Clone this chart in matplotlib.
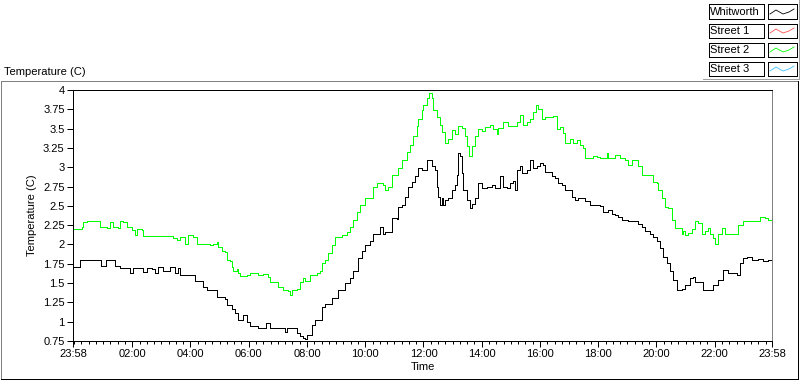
# temperature log chart, LabVIEW style, two stations over one day

import matplotlib
matplotlib.use('Agg')
import matplotlib.pyplot as plt
from matplotlib.lines import Line2D
from matplotlib.patches import Rectangle

plt.rcParams['font.family'] = ['Liberation Sans', 'DejaVu Sans']

# hours since 23:58 start
t_whit = [0.00, 0.24, 0.93, 0.96, 1.13, 1.37, 1.44, 1.61, 1.85, 1.96, 2.06, 2.30, 2.40,
          2.54, 2.71, 2.82, 2.92, 3.09, 3.23, 3.33, 3.50, 3.61, 3.67, 4.12, 4.19, 4.46,
          4.60, 4.88, 4.94, 5.22, 5.29, 5.46, 5.56, 5.67, 5.84, 5.97, 6.08, 6.35, 6.63,
          6.76, 7.21, 7.28, 7.35, 7.62, 7.69, 7.79, 7.90, 7.97, 8.03, 8.21, 8.31, 8.55,
          8.65, 8.82, 8.89, 9.10, 9.34, 9.51, 9.61, 9.79, 9.92, 10.03, 10.20, 10.30,
          10.44, 10.54, 10.64, 10.71, 10.95, 11.12, 11.16, 11.30, 11.40, 11.50, 11.64,
          11.74, 11.85, 11.98, 12.09, 12.15, 12.33, 12.43, 12.50, 12.53, 12.60, 12.67,
          12.70, 12.77, 12.88, 13.01, 13.12, 13.18, 13.22, 13.29, 13.36, 13.39, 13.53,
          13.63, 13.70, 13.80, 13.91, 14.04, 14.21, 14.39, 14.49, 14.66, 14.76, 14.90,
          15.00, 15.11, 15.18, 15.24, 15.35, 15.42, 15.59, 15.69, 15.79, 15.93, 16.03,
          16.14, 16.21, 16.31, 16.45, 16.55, 16.65, 16.79, 16.89, 17.13, 17.24, 17.34,
          17.58, 17.75, 18.09, 18.20, 18.37, 18.51, 18.61, 18.71, 18.85, 19.06, 19.30,
          19.40, 19.54, 19.64, 19.81, 19.91, 20.05, 20.15, 20.26, 20.39, 20.50, 20.60,
          20.74, 20.91, 21.01, 21.19, 21.29, 21.36, 21.60, 21.63, 21.87, 21.97, 22.15,
          22.32, 22.49, 22.80, 22.90, 23.00, 23.14, 23.31, 23.52, 23.69, 23.86, 24.00]
v_whit = [1.71, 1.80, 1.80, 1.72, 1.80, 1.80, 1.72, 1.70, 1.70, 1.63, 1.70, 1.69, 1.64,
          1.70, 1.68, 1.63, 1.71, 1.66, 1.65, 1.71, 1.63, 1.69, 1.60, 1.60, 1.53, 1.45,
          1.41, 1.41, 1.32, 1.30, 1.22, 1.17, 1.11, 1.02, 1.09, 1.00, 0.94, 0.92, 0.98,
          0.92, 0.92, 0.87, 0.92, 0.92, 0.85, 0.81, 0.79, 0.77, 0.83, 0.96, 1.02, 1.19,
          1.23, 1.23, 1.31, 1.41, 1.50, 1.56, 1.65, 1.82, 1.91, 1.99, 2.04, 2.14,
          2.14, 2.23, 2.14, 2.16, 2.34, 2.33, 2.49, 2.51, 2.62, 2.75, 2.81,
          2.88, 2.99, 2.97, 2.96, 3.09, 3.01, 2.96, 2.75, 2.62, 2.51, 2.60,
          2.51, 2.58, 2.60, 2.71, 2.77, 2.90, 3.18, 3.14, 2.92, 2.71, 2.58,
          2.47, 2.52, 2.60, 2.79, 2.73, 2.75, 2.77, 2.73, 2.88, 2.75, 2.73,
          2.79, 2.82, 2.71, 2.96, 3.01, 2.92, 2.96, 3.09, 2.99, 3.01, 3.05,
          3.03, 2.94, 2.94, 2.88, 2.86, 2.79, 2.77, 2.71, 2.62, 2.58, 2.60,
          2.56, 2.51, 2.50, 2.42, 2.44, 2.40, 2.38, 2.36, 2.32, 2.30, 2.30,
          2.27, 2.23, 2.18, 2.14, 2.10, 2.04, 1.95, 1.84, 1.76, 1.65, 1.54,
          1.41, 1.42, 1.48, 1.56, 1.58, 1.52, 1.52, 1.41, 1.41, 1.48, 1.54,
          1.67, 1.63, 1.60, 1.76, 1.82, 1.84, 1.80, 1.81, 1.79, 1.80, 1.80]

t_st2 = [0.00, 0.31, 0.34, 0.48, 0.86, 0.93, 1.17, 1.27, 1.37, 1.55, 1.61, 1.72, 1.85,
         2.03, 2.13, 2.20, 2.37, 2.40, 3.33, 3.43, 3.57, 3.67, 3.85, 3.95, 4.12, 4.26,
         4.64, 4.70, 4.81, 4.94, 4.98, 5.12, 5.22, 5.29, 5.39, 5.46, 5.49, 5.63, 5.67,
         5.73, 5.97, 6.08, 6.35, 6.52, 6.70, 6.76, 6.94, 7.04, 7.21, 7.38, 7.45, 7.52,
         7.69, 7.79, 7.90, 7.97, 8.14, 8.38, 8.48, 8.55, 8.65, 8.76, 8.89, 9.00, 9.24,
         9.41, 9.51, 9.61, 9.75, 9.85, 10.03, 10.30, 10.44, 10.64, 10.71, 10.82, 10.95,
         11.16, 11.30, 11.47, 11.57, 11.67, 11.81, 11.85, 11.98, 12.02, 12.15, 12.22,
         12.33, 12.36, 12.50, 12.60, 12.67, 12.77, 12.88, 13.01, 13.12, 13.22, 13.36,
         13.46, 13.53, 13.60, 13.70, 13.80, 13.91, 14.04, 14.15, 14.32, 14.42, 14.56,
         14.59, 14.76, 14.94, 15.11, 15.24, 15.35, 15.45, 15.59, 15.69, 15.79, 15.90,
         15.97, 16.10, 16.21, 16.48, 16.62, 16.72, 16.82, 16.89, 17.06, 17.17, 17.30,
         17.41, 17.51, 17.58, 17.85, 17.99, 18.09, 18.33, 18.37, 18.61, 18.78, 18.95,
         19.06, 19.20, 19.40, 19.54, 19.91, 20.05, 20.09, 20.23, 20.33, 20.43, 20.57,
         20.67, 20.91, 20.95, 21.01, 21.12, 21.25, 21.36, 21.46, 21.60, 21.70, 21.80,
         21.87, 21.97, 22.04, 22.15, 22.28, 22.39, 22.83, 23.00, 23.52, 23.59, 23.76,
         23.86, 24.00]
v_st2 = [2.20, 2.23, 2.29, 2.30, 2.30, 2.23, 2.21, 2.29, 2.22, 2.21, 2.30, 2.29, 2.23,
         2.19, 2.12, 2.20, 2.19, 2.11, 2.11, 2.08, 2.06, 2.10, 2.01, 2.12, 2.10, 2.01,
         2.01, 1.99, 2.01, 2.03, 1.97, 1.91, 1.90, 1.80, 1.78, 1.71, 1.65, 1.68, 1.63,
         1.59, 1.60, 1.63, 1.60, 1.62, 1.58, 1.52, 1.51, 1.45, 1.41, 1.40, 1.34, 1.41,
         1.42, 1.51, 1.56, 1.53, 1.60, 1.63, 1.66, 1.76, 1.80, 1.89, 1.99, 2.10, 2.12,
         2.16, 2.23, 2.32, 2.42, 2.51, 2.60, 2.75, 2.79, 2.77, 2.71, 2.74, 2.90,
         2.99, 3.09, 3.20, 3.29, 3.40, 3.53, 3.63, 3.74, 3.81, 3.89, 3.96,
         3.89, 3.74, 3.65, 3.55, 3.46, 3.31, 3.37, 3.48, 3.43, 3.53, 3.51,
         3.40, 3.27, 3.14, 3.27, 3.40, 3.50, 3.47, 3.52, 3.55, 3.50, 3.43,
         3.51, 3.59, 3.53, 3.53, 3.59, 3.68, 3.55, 3.59, 3.63, 3.72, 3.81,
         3.76, 3.63, 3.65, 3.66, 3.50, 3.52, 3.44, 3.31, 3.37, 3.31, 3.35,
         3.29, 3.25, 3.12, 3.14, 3.13, 3.12, 3.18, 3.12, 3.16, 3.12, 3.10,
         3.03, 3.09, 3.01, 2.90, 2.81, 2.79, 2.71, 2.60, 2.49, 2.47, 2.32,
         2.21, 2.14, 2.18, 2.12, 2.15, 2.20, 2.30, 2.28, 2.14, 2.18, 2.21,
         2.14, 2.08, 2.01, 2.13, 2.21, 2.14, 2.25, 2.30, 2.31, 2.36, 2.34,
         2.32, 2.30]

legend_names = ['Whitworth', 'Street 1', 'Street 2', 'Street 3']
legend_colors = ['black', '#ff5050', '#00ff00', '#3fc4ff']

tick_hours = [0] + [2 * k + 2 / 60 for k in range(1, 12)] + [24]
tick_labels = ['23:58'] + ['%02d:00' % (2 * k) for k in range(1, 12)] + ['23:58']
y_ticks = [0.75 + 0.25 * k for k in range(14)]

W, H = 800, 380
FS = 8
PX = 0.72  # one pixel in points
fig = plt.figure(figsize=(W / 100, H / 100), dpi=100)


def fx(x):
    return x / W


def fy(y):
    return 1 - y / H


# outer panel frame
def frame_line(x0, y0, x1, y1, c):
    fig.add_artist(Line2D([fx(x0), fx(x1)], [fy(y0), fy(y1)], transform=fig.transFigure,
                          color=c, lw=PX, antialiased=False))


frame_line(0.5, 80.5, 797.5, 80.5, '#808080')
frame_line(0.5, 80.5, 0.5, 378.5, '#808080')
frame_line(0.5, 378.5, 798, 378.5, 'black')
frame_line(797.5, 80.5, 797.5, 378.5, 'black')

fig.text(fx(4), fy(72), 'Temperature (C)', fontsize=FS, va='center', ha='left')

ax = fig.add_axes([fx(73), fy(341), 699 / W, 251 / H])
ax.plot(t_whit, v_whit, drawstyle='steps-post', color='black', lw=PX, antialiased=False)
ax.plot(t_st2, v_st2, drawstyle='steps-post', color='#00ff00', lw=PX, antialiased=False)

ax.set_xlim(0, 24)
ax.set_ylim(0.75, 4)
ax.set_xticks(tick_hours)
ax.set_xticklabels(tick_labels)
ax.set_xticks([2 / 60 + 0.25 * k for k in range(96)], minor=True)
ax.set_yticks(y_ticks)
ax.set_yticklabels(['%g' % v for v in y_ticks])
ax.tick_params(which='major', direction='out', length=4, width=PX, labelsize=FS, pad=2)
ax.tick_params(which='minor', direction='out', length=2, width=PX)
ax.tick_params(axis='y', which='minor', left=False)
for s in ['left', 'top', 'bottom']:
    ax.spines[s].set_color('black')
    ax.spines[s].set_linewidth(PX)
ax.spines['right'].set_color('#808080')
ax.spines['right'].set_linewidth(PX)

ax.set_xlabel('Time', fontsize=FS, labelpad=2)
ax.set_ylabel('Temperature (C)', fontsize=FS, labelpad=4)

# legend boxes, drawn like the LabVIEW plot legend
for i, (name, col) in enumerate(zip(legend_names, legend_colors)):
    top = 4 + 19 * i
    fig.add_artist(Rectangle((fx(708.5), fy(top + 14.5)), 55 / W, 14 / H, transform=fig.transFigure,
                             facecolor='white', edgecolor='black', lw=PX, antialiased=False))
    fig.text(fx(710), fy(top + 8), name, fontsize=FS, va='center', ha='left')
    fig.add_artist(Rectangle((fx(767.5), fy(top + 14.5)), 29 / W, 14 / H, transform=fig.transFigure,
                             facecolor='white', edgecolor='black', lw=PX, antialiased=False))
    zx = [770, 776, 783, 789, 794]
    zy = [top + 10, top + 6, top + 10, top + 8, top + 5]
    fig.add_artist(Line2D([fx(v) for v in zx], [fy(v) for v in zy], transform=fig.transFigure,
                          color=col, lw=0.6))

frame_line(703, 78.5, 799, 78.5, '#a0a0a0')
frame_line(798.5, 0, 798.5, 78.5, '#a0a0a0')

fig.savefig('out.png', dpi=100)
